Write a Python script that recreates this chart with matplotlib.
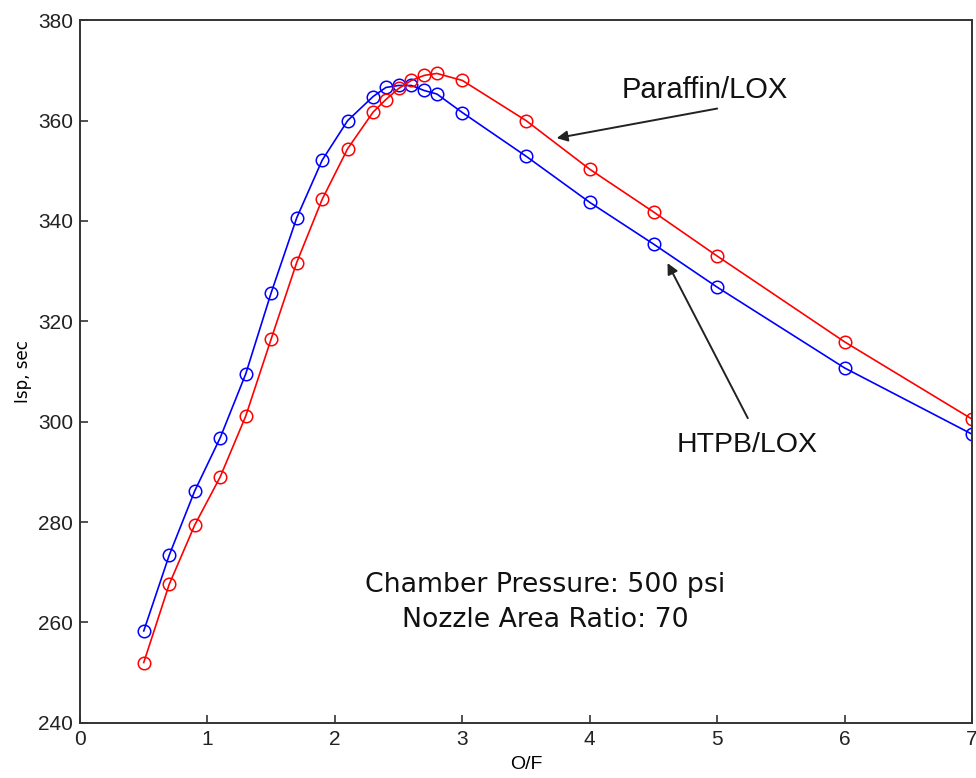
import numpy as np
from matplotlib import pyplot as plt

# O/F values and Isp
of_ratio = [0.5, 0.7, 0.9, 1.1, 1.3, 1.5, 1.7, 1.9, 2.1, 2.3, 2.4, 2.5, 2.6, 2.7, 2.8, 3.0, 3.5, 4.0, 4.5, 5.0, 6.0, 7.0]
isp_paraffin = [252.0, 267.6, 279.4, 289.0, 301.1, 316.5, 331.7, 344.3, 354.4, 361.7, 364.2, 366.4, 368.0, 369.0, 369.4, 368.0,
                360.0, 350.3, 341.8, 333.0, 315.9, 300.5]
isp_htpb = [258.3, 273.4, 286.2, 296.8, 309.5, 325.7, 340.6, 352.1, 360.0, 364.8, 366.6, 367.0, 367.0, 366.0, 365.3, 361.6,
            352.9, 343.7, 335.4, 326.8, 310.7, 297.5]

xticks = [0, 1, 2, 3, 4, 5, 6, 7]
yticks = [240, 260, 280, 300, 320, 340, 360, 380]

tick_font = 'Liberation Sans'

fig = plt.figure(figsize=(9.76, 7.78), dpi=100)
ax = fig.add_axes([0.082, 0.071, 0.914, 0.903])

ax.plot(of_ratio, isp_htpb, color='blue', lw=1.2, marker='o', markersize=9,
        markerfacecolor='none', markeredgecolor='blue', markeredgewidth=1.1)
ax.plot(of_ratio, isp_paraffin, color='red', lw=1.2, marker='o', markersize=9,
        markerfacecolor='none', markeredgecolor='red', markeredgewidth=1.1)

ax.set_xlim(0, 7)
ax.set_ylim(240, 380)
ax.set_xticks(xticks)
ax.set_yticks(yticks)
ax.tick_params(direction='in', length=6, width=1.1, colors='#222222', pad=5)
for lab in ax.get_xticklabels() + ax.get_yticklabels():
    lab.set_family(tick_font)
    lab.set_fontsize(15)
for s in ax.spines.values():
    s.set_linewidth(1.4)
    s.set_color('#333333')

ax.set_xlabel('O/F', fontsize=14, family=tick_font, labelpad=5)
ax.set_ylabel('Isp, sec', fontsize=12, labelpad=4)

# annotations (arrows then labels)
ax.annotate('', xy=(3.74, 356.5), xytext=(5.0, 362.4),
            arrowprops=dict(arrowstyle='-|>', color='#222222', lw=1.4,
                            shrinkA=0, shrinkB=0, mutation_scale=16))
ax.annotate('', xy=(4.61, 331.6), xytext=(5.24, 300.7),
            arrowprops=dict(arrowstyle='-|>', color='#222222', lw=1.4,
                            shrinkA=0, shrinkB=0, mutation_scale=16))
ax.text(4.906, 364.5, 'Paraffin/LOX', fontsize=21, family='Liberation Sans',
        ha='center', va='baseline', color='#111111')
ax.text(5.233, 294.0, 'HTPB/LOX', fontsize=20.5, family='Liberation Sans',
        ha='center', va='baseline', color='#111111')

ax.text(3.65, 266.1, 'Chamber Pressure: 500 psi', fontsize=19.3, ha='center', va='baseline', color='#111111')
ax.text(3.65, 259.1, 'Nozzle Area Ratio: 70', fontsize=19.3, ha='center', va='baseline', color='#111111')

plt.savefig('out.png', dpi=100)
